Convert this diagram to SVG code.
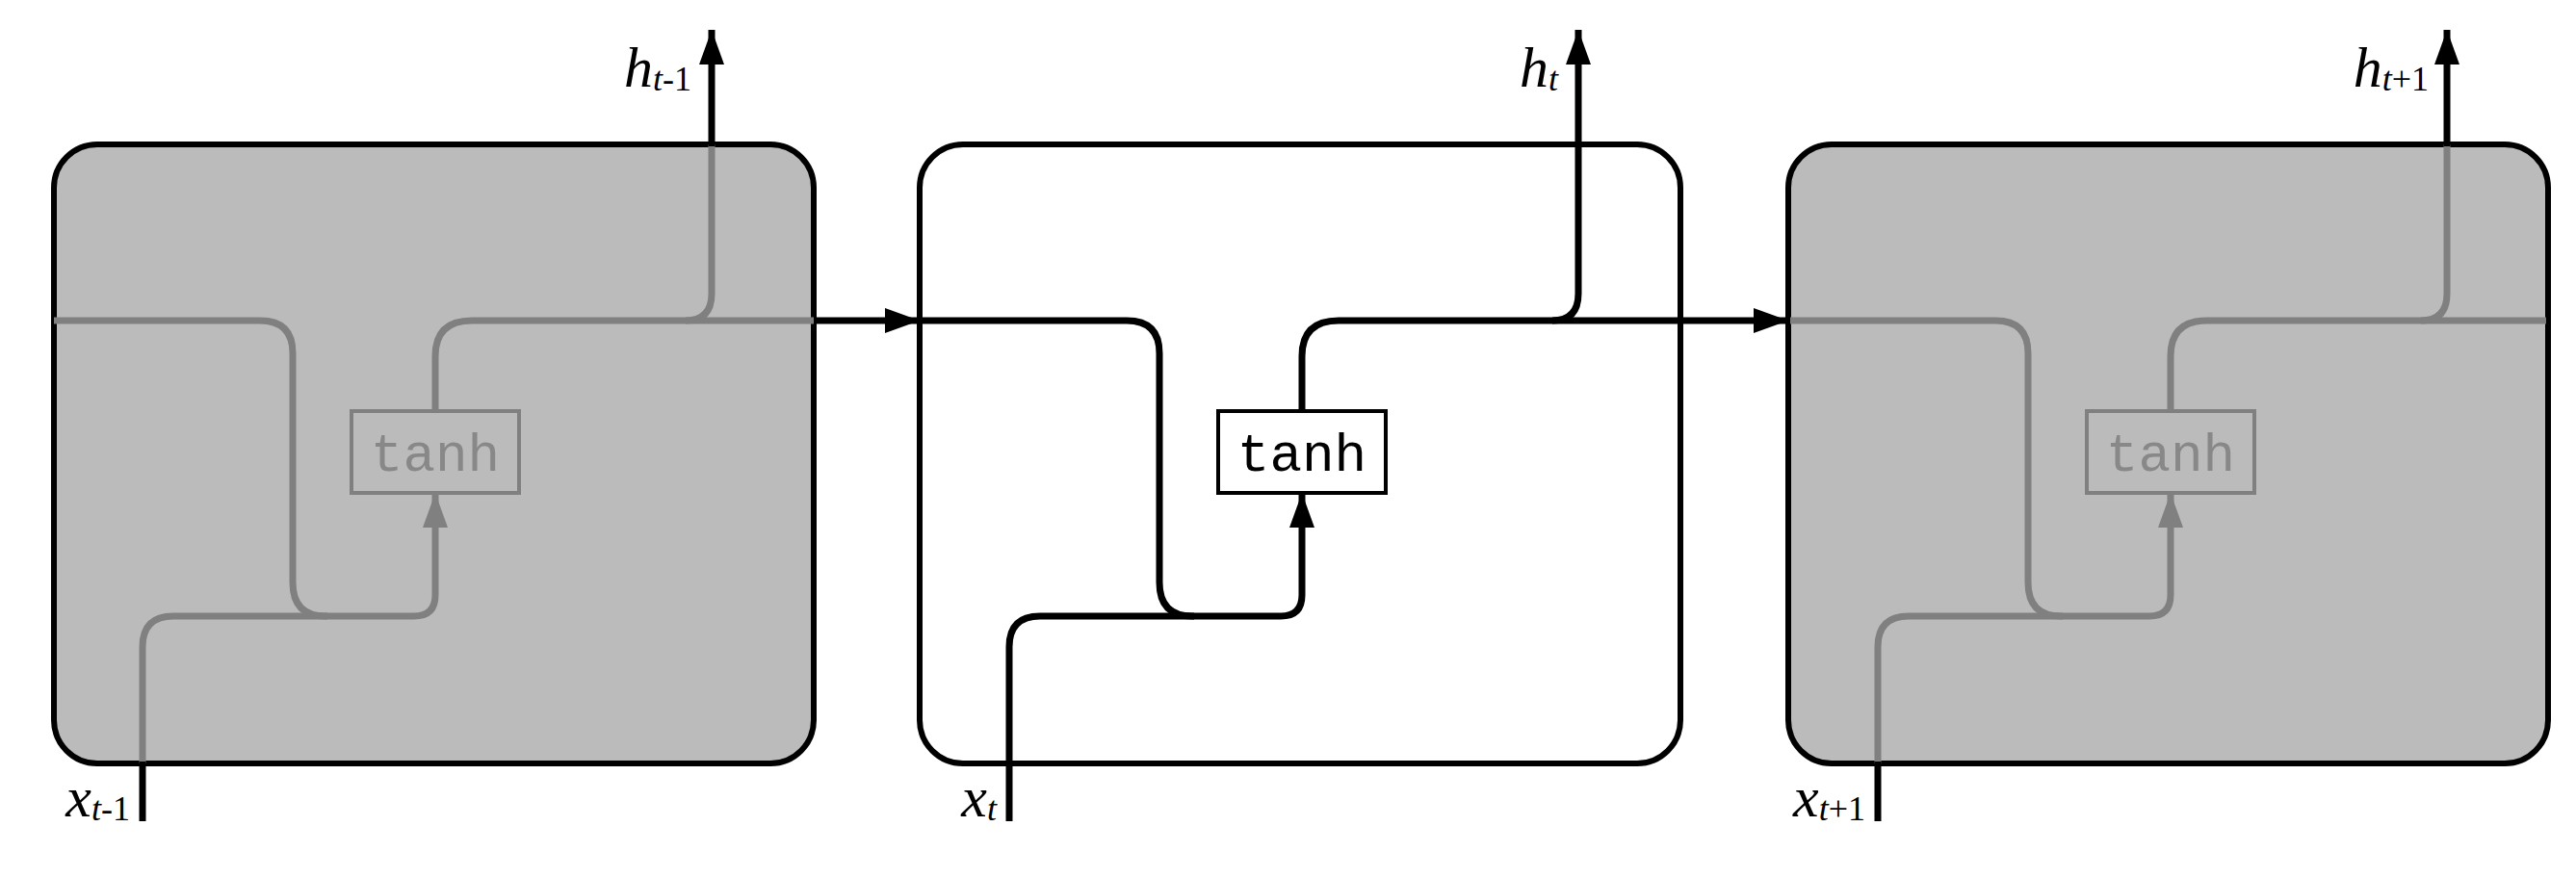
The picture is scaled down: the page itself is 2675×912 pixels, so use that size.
<svg xmlns="http://www.w3.org/2000/svg" width="2675" height="912" viewBox="0 0 2675 912">
<style>
.box{stroke:#000;stroke-width:6}
.g{fill:none;stroke:#808080;stroke-width:7}
.k{fill:none;stroke:#000;stroke-width:7}
.lbl{font-family:"Liberation Serif",serif;font-style:italic;font-size:60px;fill:#000}
.sub{font-size:36px}
.n{font-style:normal}
.tg{font-family:"Liberation Mono",monospace;font-size:56px;fill:#888}
.tk{font-family:"Liberation Mono",monospace;font-size:56px;fill:#000}
</style>
<defs>
<marker id="ak" markerUnits="userSpaceOnUse" markerWidth="40" markerHeight="30" refX="36" refY="13" orient="auto"><path d="M0,0 L36,13 L0,26 Z" fill="#000"/></marker>
<marker id="ag" markerUnits="userSpaceOnUse" markerWidth="40" markerHeight="30" refX="36" refY="13" orient="auto"><path d="M0,0 L36,13 L0,26 Z" fill="#808080"/></marker>
</defs>
<g id="cell-left">
<rect class="box" x="56" y="150" width="789" height="643" rx="45" fill="#bbbbbb"/>
<rect x="365" y="427" width="174" height="85" fill="none" stroke="#808080" stroke-width="4"/>
<text class="tg" x="452" y="489" text-anchor="middle">tanh</text>
<text class="lbl" x="718" y="90" text-anchor="end">h<tspan class="sub" dy="4">t</tspan><tspan class="sub n">-1</tspan></text>
<text class="lbl" x="135" y="848" text-anchor="end">x<tspan class="sub" dy="4">t</tspan><tspan class="sub n">-1</tspan></text>
</g>
<g id="cell-mid">
<rect class="box" x="955" y="150" width="790" height="643" rx="45" fill="#fff"/>
<rect x="1265" y="427" width="174" height="85" fill="#fff" stroke="#000" stroke-width="4"/>
<text class="tk" x="1352" y="489" text-anchor="middle">tanh</text>
<text class="lbl" x="1618" y="90" text-anchor="end">h<tspan class="sub" dy="4">t</tspan></text>
<text class="lbl" x="1035" y="848" text-anchor="end">x<tspan class="sub" dy="4">t</tspan></text>
</g>
<g id="cell-right">
<rect class="box" x="1857" y="150" width="789" height="643" rx="45" fill="#bbbbbb"/>
<rect x="2167" y="427" width="174" height="85" fill="none" stroke="#808080" stroke-width="4"/>
<text class="tg" x="2254" y="489" text-anchor="middle">tanh</text>
<text class="lbl" x="2522" y="90" text-anchor="end">h<tspan class="sub" dy="4">t</tspan><tspan class="sub n">+1</tspan></text>
<text class="lbl" x="1937" y="848" text-anchor="end">x<tspan class="sub" dy="4">t</tspan><tspan class="sub n">+1</tspan></text>
</g>
<g id="connectors">
<g id="left-lines">
<path class="g" d="M56,333 H270 Q304,333 304,367 V605 Q304,640 338,640 H430 Q452,640 452,618 V512" marker-end="url(#ag)"/>
<path class="g" d="M148,793 V672 Q148,640 180,640 H340"/>
<path class="g" d="M452,427 V370 Q452,333 490,333 H845"/>
<path class="g" d="M712,333 Q739,333 739,305 V150"/>
<path class="k" d="M739,152 V31" marker-end="url(#ak)"/>
<path class="k" d="M148,853 V791"/>
</g>
<g id="mid-lines">
<path class="k" d="M845,333 H955" marker-end="url(#ak)"/>
<path class="k" d="M955,333 H1170 Q1204,333 1204,367 V605 Q1204,640 1238,640 H1330 Q1352,640 1352,618 V512" marker-end="url(#ak)"/>
<path class="k" d="M1048,853 V672 Q1048,640 1080,640 H1240"/>
<path class="k" d="M1352,427 V370 Q1352,333 1390,333 H1857" marker-end="url(#ak)"/>
<path class="k" d="M1612,333 Q1639,333 1639,305 V31" marker-end="url(#ak)"/>
</g>
<g id="right-lines">
<path class="g" d="M1859,333 H2072 Q2106,333 2106,367 V605 Q2106,640 2140,640 H2232 Q2254,640 2254,618 V512" marker-end="url(#ag)"/>
<path class="g" d="M1950,793 V672 Q1950,640 1982,640 H2142"/>
<path class="g" d="M2254,427 V370 Q2254,333 2292,333 H2644"/>
<path class="g" d="M2514,333 Q2541,333 2541,305 V150"/>
<path class="k" d="M2541,152 V31" marker-end="url(#ak)"/>
<path class="k" d="M1950,853 V791"/>
</g>
</g>
</svg>
